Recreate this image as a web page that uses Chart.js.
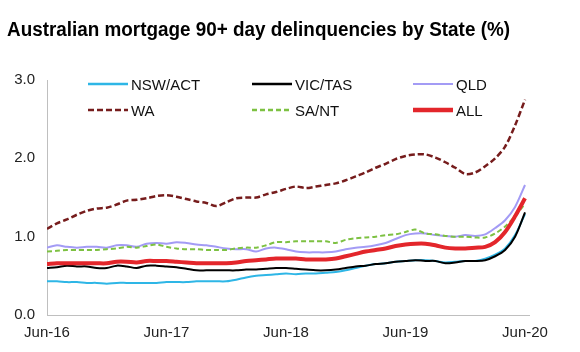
<!DOCTYPE html>
<html>
<head>
<meta charset="utf-8">
<script src="https://cdn.jsdelivr.net/npm/chart.js@4.4.1/dist/chart.umd.min.js"></script>
<style>
  html, body { margin: 0; padding: 0; background: #fff; }
  #wrap { position: relative; width: 580px; height: 352px; overflow: hidden; font-family: "Liberation Sans", Arial, sans-serif; }
  #c { position: absolute; left: 0; top: 0; }
  #title { position: absolute; left: 7px; top: 19px; font-weight: bold; font-size: 20px; line-height: 20px; color: #000; white-space: nowrap; transform-origin: 0 0; }
  .lg { position: absolute; font-size: 15px; line-height: 15px; color: #111; white-space: nowrap; }
  .sw { position: absolute; }
</style>
</head>
<body>
<div id="wrap">
  <canvas id="c" width="580" height="352"></canvas>
  <div id="title">Australian mortgage 90+ day delinquencies by State (%)</div>
  <div id="legend"></div>
</div>
<script>
// Monthly categories Jun-16 .. Jun-20
const months = ['Jun-16','Jul-16','Aug-16','Sep-16','Oct-16','Nov-16','Dec-16','Jan-17','Feb-17','Mar-17','Apr-17','May-17',
  'Jun-17','Jul-17','Aug-17','Sep-17','Oct-17','Nov-17','Dec-17','Jan-18','Feb-18','Mar-18','Apr-18','May-18',
  'Jun-18','Jul-18','Aug-18','Sep-18','Oct-18','Nov-18','Dec-18','Jan-19','Feb-19','Mar-19','Apr-19','May-19',
  'Jun-19','Jul-19','Aug-19','Sep-19','Oct-19','Nov-19','Dec-19','Jan-20','Feb-20','Mar-20','Apr-20','May-20','Jun-20'];
const tickLabels = ['Jun-16','Jun-17','Jun-18','Jun-19','Jun-20'];

const nswAct = [0.43,0.43,0.42,0.42,0.41,0.41,0.40,0.41,0.41,0.41,0.41,0.41,0.42,0.42,0.42,0.43,0.43,0.43,0.43,0.45,0.48,0.50,0.51,0.52,0.53,0.52,0.53,0.53,0.54,0.55,0.57,0.60,0.63,0.65,0.66,0.68,0.69,0.70,0.70,0.69,0.67,0.68,0.69,0.69,0.72,0.77,0.85,1.02,1.29];
const vicTas = [0.60,0.61,0.63,0.62,0.62,0.60,0.60,0.63,0.62,0.60,0.63,0.63,0.62,0.61,0.59,0.57,0.57,0.57,0.57,0.57,0.58,0.58,0.59,0.60,0.60,0.59,0.58,0.57,0.57,0.58,0.60,0.62,0.63,0.65,0.66,0.68,0.69,0.70,0.69,0.69,0.66,0.67,0.69,0.69,0.70,0.75,0.83,1.00,1.31];
const qld    = [0.86,0.89,0.87,0.86,0.87,0.87,0.86,0.89,0.89,0.87,0.91,0.92,0.91,0.93,0.92,0.90,0.89,0.87,0.85,0.84,0.84,0.81,0.85,0.86,0.84,0.81,0.80,0.80,0.80,0.81,0.84,0.86,0.87,0.89,0.92,0.97,1.02,1.04,1.04,1.02,1.01,1.00,1.02,1.01,1.03,1.11,1.21,1.38,1.66];
const wa     = [1.10,1.17,1.22,1.28,1.33,1.36,1.37,1.41,1.46,1.47,1.49,1.52,1.53,1.51,1.48,1.45,1.43,1.39,1.44,1.49,1.50,1.50,1.54,1.57,1.61,1.64,1.62,1.64,1.66,1.68,1.72,1.77,1.82,1.88,1.93,1.99,2.03,2.05,2.05,2.01,1.95,1.88,1.80,1.82,1.90,2.00,2.15,2.42,2.75];
const saNt   = [0.81,0.82,0.83,0.83,0.83,0.83,0.84,0.85,0.87,0.86,0.88,0.90,0.87,0.85,0.84,0.84,0.83,0.83,0.83,0.85,0.86,0.86,0.89,0.93,0.93,0.94,0.94,0.94,0.94,0.92,0.96,0.98,0.99,1.00,1.02,1.03,1.06,1.09,1.04,1.03,1.01,1.00,1.00,0.99,0.99,1.04,1.13,1.26,1.42];
const all    = [0.65,0.66,0.66,0.66,0.66,0.66,0.66,0.68,0.68,0.67,0.69,0.69,0.69,0.68,0.67,0.66,0.66,0.66,0.66,0.67,0.69,0.70,0.71,0.72,0.72,0.72,0.71,0.71,0.71,0.72,0.75,0.78,0.81,0.83,0.85,0.88,0.90,0.91,0.91,0.89,0.86,0.85,0.85,0.86,0.87,0.93,1.06,1.26,1.49];

const seriesDefs = [
  { label: 'NSW/ACT', data: nswAct, color: '#2EB6E6', width: 2,   dash: [],    order: 2 },
  { label: 'VIC/TAS', data: vicTas, color: '#000000', width: 2,   dash: [],    order: 1 },
  { label: 'QLD',     data: qld,    color: '#A39BF5', width: 2,   dash: [],    order: 4 },
  { label: 'WA',      data: wa,     color: '#761C1C', width: 2.5, dash: [6,3], order: 5 },
  { label: 'SA/NT',   data: saNt,   color: '#7DC142', width: 2,   dash: [5,3], order: 3 },
  { label: 'ALL',     data: all,    color: '#E3262B', width: 4,   dash: [],    order: 0 }
];

const tickPos = tickLabels.map(t => months.indexOf(t));

const datasets = seriesDefs.map(s => ({
  label: s.label,
  data: s.data.map((v, i) => ({ x: i, y: v })),
  borderColor: s.color,
  backgroundColor: s.color,
  borderWidth: s.width,
  borderDash: s.dash,
  pointRadius: 0,
  tension: 0.3,
  fill: false,
  order: s.order
}));

const tickFont = { family: '"Liberation Sans", Arial, sans-serif', size: 15 };

new Chart(document.getElementById('c'), {
  type: 'line',
  data: { datasets },
  options: {
    responsive: false,
    animation: false,
    layout: { padding: { top: 80, right: 51, left: 0, bottom: 0 } },
    plugins: { legend: { display: false }, title: { display: false }, tooltip: { enabled: false } },
    scales: {
      x: {
        type: 'linear',
        min: 0,
        max: 48.4,
        grid: { display: false, drawTicks: false },
        border: { display: true, color: '#BFBFBF', width: 1 },
        afterBuildTicks: axis => { axis.ticks = tickPos.map(v => ({ value: v })); },
        afterFit: axis => { axis.height = 37; },
        ticks: {
          padding: 9,
          color: '#222',
          font: tickFont,
          maxRotation: 0,
          autoSkip: false,
          callback: v => { const k = tickPos.indexOf(v); return k >= 0 ? tickLabels[k] : ''; }
        }
      },
      y: {
        min: 0,
        max: 3,
        grid: { display: false, drawTicks: false },
        border: { display: true, color: '#BFBFBF', width: 1 },
        afterFit: axis => { axis.width = 47; },
        ticks: {
          stepSize: 1,
          padding: 12,
          color: '#222',
          font: tickFont,
          callback: v => Number(v).toFixed(1)
        }
      }
    }
  }
});

// Legend (3 columns x 2 rows, inside plot)
const legendCols = [88, 252, 413];
const legendRows = [83.5, 109.5];
const legendEl = document.getElementById('legend');
seriesDefs.forEach((s, i) => {
  const col = i % 3, row = Math.floor(i / 3);
  const x = legendCols[col], y = legendRows[row];
  const svgNS = 'http://www.w3.org/2000/svg';
  const svg = document.createElementNS(svgNS, 'svg');
  svg.setAttribute('width', '40');
  svg.setAttribute('height', '8');
  svg.setAttribute('class', 'sw');
  svg.style.left = x + 'px';
  svg.style.top = (y - 4) + 'px';
  const ln = document.createElementNS(svgNS, 'line');
  ln.setAttribute('x1', '0'); ln.setAttribute('x2', '40');
  ln.setAttribute('y1', '4'); ln.setAttribute('y2', '4');
  ln.setAttribute('stroke', s.color);
  ln.setAttribute('stroke-width', s.label === 'ALL' ? 4.5 : (s.label === 'QLD' ? 2 : 2.5));
  if (s.dash.length) ln.setAttribute('stroke-dasharray', s.dash.join(' '));
  svg.appendChild(ln);
  legendEl.appendChild(svg);
  const t = document.createElement('div');
  t.className = 'lg';
  t.textContent = s.label;
  t.style.left = (x + 43) + 'px';
  t.style.top = (y - 7) + 'px';
  legendEl.appendChild(t);
});

// Fit title width to reference (~503px)
const title = document.getElementById('title');
const w = title.getBoundingClientRect().width;
if (w > 0) title.style.transform = 'scaleX(' + (503 / w) + ')';
</script>
</body>
</html>
